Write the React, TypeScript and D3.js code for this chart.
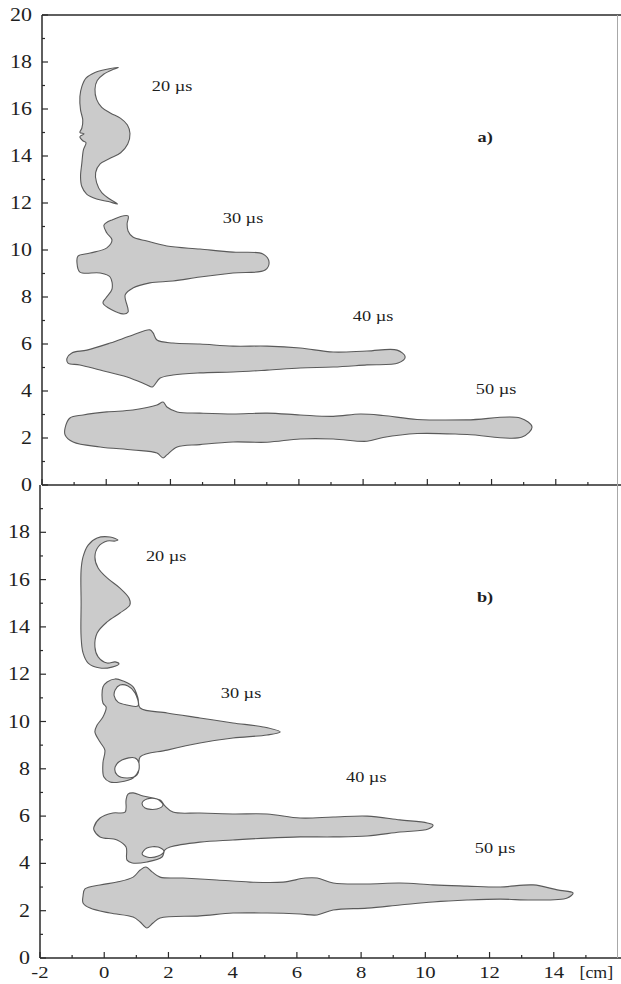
import React from 'react';
import * as d3 from 'd3';

type P = [number, number];

// ---------- axis data ----------
const xTicksMajor = [-2, 0, 2, 4, 6, 8, 10, 12, 14];
const xTicksMinor = [-1, 1, 3, 5, 7, 9, 11, 13, 15];
const yTicksTop = [0, 2, 4, 6, 8, 10, 12, 14, 16, 18, 20];
const yTicksBottom = [0, 2, 4, 6, 8, 10, 12, 14, 16, 18];
const yTicksMinor = [1, 3, 5, 7, 9, 11, 13, 15, 17, 19];
const xUnitLabel = '[cm]';
const xUnitPos = 15.85;
const xDomain: [number, number] = [-2, 16];
const yDomain: [number, number] = [0, 20];

// ---------- panel a) shapes (x in cm, y in cm) ----------
const topShape20: P[] = [
  [0.38, 17.77], [0.02, 17.69], [-0.35, 17.55], [-0.63, 17.31], [-0.76, 16.95], [-0.82, 16.53],
  [-0.8, 15.96], [-0.73, 15.53], [-0.76, 15.18], [-0.82, 15.0], [-0.69, 14.94], [-0.82, 14.82],
  [-0.73, 14.65], [-0.63, 14.57], [-0.71, 14.26], [-0.76, 13.69], [-0.8, 13.12], [-0.76, 12.7],
  [-0.61, 12.38], [-0.3, 12.17], [0.07, 12.06], [0.35, 11.96],
  [0.12, 12.16], [-0.14, 12.44], [-0.3, 12.87], [-0.33, 13.29], [-0.19, 13.66], [0.12, 13.9],
  [0.45, 14.14], [0.67, 14.51], [0.74, 14.96], [0.66, 15.32], [0.45, 15.6], [0.14, 15.82],
  [-0.14, 16.07], [-0.3, 16.41], [-0.35, 16.84], [-0.28, 17.21], [-0.07, 17.49], [0.22, 17.69],
];
const topShape30: P[] = [
  [-0.07, 11.06], [0.18, 11.28], [0.68, 11.45], [0.65, 11.11], [0.68, 10.81], [0.83, 10.55],
  [1.27, 10.38], [1.89, 10.17], [2.92, 10.04], [3.95, 9.91], [4.88, 9.83], [5.07, 9.49],
  [4.95, 9.15], [3.95, 9.02], [2.92, 8.85], [2.08, 8.68], [1.36, 8.6], [0.83, 8.38],
  [0.59, 8.09], [0.68, 7.36], [0.52, 7.28], [-0.1, 7.74], [-0.01, 7.96], [0.18, 8.34],
  [0.12, 8.85], [-0.19, 9.02], [-0.82, 9.06], [-0.91, 9.45], [-0.88, 9.74], [-0.5, 9.87],
  [0.02, 10.09], [0.18, 10.43], [0.02, 10.72],
];
const topShape40: P[] = [
  [-1.22, 5.4], [-1.07, 5.62], [-0.6, 5.74], [0.12, 6.04], [0.83, 6.38], [1.36, 6.6],
  [1.46, 6.47], [1.58, 6.17], [2.08, 6.04], [2.92, 6.0], [3.95, 5.91], [5.01, 5.91],
  [6.04, 5.83], [7.07, 5.66], [8.12, 5.7], [9.06, 5.74], [9.31, 5.45], [9.09, 5.19],
  [8.12, 5.11], [7.07, 5.02], [6.04, 4.98], [5.01, 4.89], [3.95, 4.81], [2.92, 4.77],
  [2.08, 4.68], [1.68, 4.55], [1.43, 4.17], [1.27, 4.26], [0.65, 4.6], [-0.19, 4.89],
  [-0.82, 5.11], [-1.19, 5.19],
];
const topShape50: P[] = [
  [-1.28, 2.43], [-1.13, 2.85], [-0.72, 2.98], [0.02, 3.11], [0.83, 3.19], [1.58, 3.4],
  [1.77, 3.53], [1.89, 3.32], [2.21, 3.11], [2.92, 3.06], [3.95, 3.02], [5.01, 3.06],
  [6.04, 2.98], [7.07, 2.92], [7.91, 3.02], [8.62, 2.96], [9.68, 2.79], [11.24, 2.77],
  [12.89, 2.85], [13.26, 2.47], [12.95, 2.04], [11.24, 2.15], [9.68, 2.19], [8.62, 2.02],
  [8.12, 1.86], [7.07, 1.96], [6.04, 1.96], [5.01, 1.82], [3.95, 1.83], [2.92, 1.72],
  [2.21, 1.62], [1.89, 1.28], [1.77, 1.15], [1.58, 1.36], [0.83, 1.49], [-0.19, 1.62],
  [-1.03, 1.83], [-1.28, 2.13],
];

// ---------- panel b) shapes ----------
const botShape20: P[] = [
  [0.43, 17.67], [0.18, 17.8], [-0.22, 17.76], [-0.5, 17.46], [-0.66, 16.96], [-0.72, 16.41],
  [-0.72, 15.01], [-0.72, 13.57], [-0.66, 12.9], [-0.5, 12.47], [-0.13, 12.26], [0.24, 12.3],
  [0.46, 12.43], [0.34, 12.52], [0.09, 12.47], [-0.19, 12.73], [-0.29, 13.15], [-0.22, 13.74],
  [0.09, 14.21], [0.49, 14.59], [0.8, 14.93], [0.77, 15.22], [0.49, 15.64], [0.09, 16.07],
  [-0.19, 16.49], [-0.29, 16.96], [-0.19, 17.38], [0.09, 17.63], [0.34, 17.63],
];
const botShape30: P[] = [
  [-0.04, 10.78], [-0.04, 11.46], [0.09, 11.67], [0.34, 11.8], [0.59, 11.71], [0.9, 11.46],
  [1.05, 10.99], [1.12, 10.57], [1.96, 10.36], [2.98, 10.15], [4.01, 9.94], [4.95, 9.77],
  [5.48, 9.56], [5.07, 9.43], [4.01, 9.3], [2.98, 9.09], [1.96, 8.79], [1.12, 8.5],
  [1.08, 7.95], [0.9, 7.61], [0.49, 7.44], [0.18, 7.44], [-0.01, 7.65], [-0.04, 8.25],
  [0.02, 8.79], [-0.13, 9.13], [-0.29, 9.56], [-0.22, 9.85], [-0.04, 10.19], [0.06, 10.61],
];
const botHoles30: P[][] = [
  [[0.34, 11.33], [0.49, 11.54], [0.74, 11.5], [0.96, 11.21], [1.05, 10.66], [0.71, 10.7], [0.43, 10.82], [0.31, 11.08]],
  [[0.34, 8.08], [0.55, 8.37], [0.96, 8.46], [1.08, 8.25], [1.02, 7.74], [0.71, 7.61], [0.4, 7.74]],
];
const botShape40: P[] = [
  [-0.32, 5.54], [-0.13, 5.92], [0.27, 6.13], [0.65, 6.17], [0.68, 6.68], [0.74, 6.93],
  [0.9, 6.98], [1.21, 6.85], [1.74, 6.68], [1.89, 6.43], [2.14, 6.17], [2.98, 6.13],
  [4.01, 6.09], [5.07, 6.09], [6.1, 5.92], [7.13, 5.96], [8.19, 6.0], [9.21, 5.84],
  [10.06, 5.71], [10.24, 5.62], [10.09, 5.45], [9.21, 5.33], [8.19, 5.16], [7.13, 5.12],
  [6.1, 5.12], [5.07, 5.07], [4.01, 4.99], [2.98, 4.9], [2.05, 4.69], [1.89, 4.57],
  [1.8, 4.27], [1.33, 4.06], [0.87, 4.02], [0.71, 4.14], [0.68, 4.69], [0.4, 4.99],
  [-0.13, 5.12], [-0.32, 5.41],
];
const botHoles40: P[][] = [
  [[1.18, 6.55], [1.33, 6.72], [1.64, 6.72], [1.83, 6.47], [1.64, 6.3], [1.27, 6.34]],
  [[1.18, 4.4], [1.33, 4.65], [1.68, 4.69], [1.86, 4.52], [1.68, 4.31], [1.33, 4.27]],
];
const botShape50: P[] = [
  [-0.66, 2.62], [-0.6, 2.92], [-0.13, 3.09], [0.4, 3.21], [0.9, 3.42], [1.12, 3.72],
  [1.3, 3.85], [1.49, 3.64], [1.74, 3.42], [2.45, 3.38], [3.51, 3.3], [4.54, 3.21],
  [5.57, 3.21], [6.26, 3.38], [6.63, 3.38], [7.13, 3.17], [8.19, 3.13], [9.21, 3.17],
  [10.24, 3.09], [11.3, 3.04], [12.33, 3.0], [13.36, 3.09], [14.11, 2.88], [14.6, 2.75],
  [14.42, 2.54], [13.36, 2.45], [12.33, 2.49], [11.3, 2.45], [10.24, 2.37], [9.21, 2.24],
  [8.19, 2.11], [7.13, 2.03], [6.63, 1.82], [6.1, 1.86], [5.07, 1.9], [4.01, 1.9],
  [2.98, 1.78], [1.74, 1.69], [1.52, 1.48], [1.33, 1.27], [1.12, 1.52], [0.9, 1.73],
  [0.18, 1.9], [-0.44, 2.11], [-0.66, 2.33],
];

// ---------- labels ----------
const timeLabels = ['20 µs', '30 µs', '40 µs', '50 µs'];
const topLabelX = [2.05, 4.26, 8.31, 12.14];
const topLabelY = [16.98, 11.36, 7.19, 4.09];
const botLabelX = [1.93, 4.26, 8.16, 12.17];
const botLabelY = [17.0, 11.2, 7.65, 4.65];
const panelTags = ['a)', 'b)'];
const panelTagX = [11.8, 11.86];
const panelTagY = [14.8, 15.26];

// ---------- layout ----------
const W = 621;
const H = 984;
const STRETCH = 1.22;
const FONT = "'Liberation Serif', 'Times New Roman', serif";

type Box = { left: number; right: number; top: number; bottom: number };
const topBox: Box = { left: 42, right: 620, top: 15, bottom: 485 };
const botBox: Box = { left: 40, right: 618, top: 485, bottom: 958 };

function SText(props: {
  x: number; y: number; size: number; anchor?: string; weight?: string; stretch?: number; children: React.ReactNode;
}) {
  const { x, y, size, anchor = 'middle', weight = 'normal', stretch = STRETCH, children } = props;
  return (
    <text
      transform={`translate(${x},${y}) scale(${stretch},1)`}
      fontFamily={FONT}
      fontSize={size}
      fontWeight={weight}
      textAnchor={anchor}
      fill="#1e1e1e"
    >
      {children}
    </text>
  );
}

function Panel(props: {
  box: Box;
  shapes: P[][];
  holes: P[][][];
  yTicks: number[];
  labelX: number[];
  labelY: number[];
  tag: string;
  tagX: number;
  tagY: number;
  showXLabels: boolean;
  drawTop: boolean;
}) {
  const { box, shapes, holes, yTicks, labelX, labelY, tag, tagX, tagY, showXLabels, drawTop } = props;
  const xs = d3.scaleLinear().domain(xDomain).range([box.left, box.right]);
  const ys = d3.scaleLinear().domain(yDomain).range([box.bottom, box.top]);
  const line = d3
    .line<P>()
    .x((d) => xs(d[0]))
    .y((d) => ys(d[1]))
    .curve(d3.curveCatmullRomClosed.alpha(0.5));
  const axisColor = '#2a2a2a';
  return (
    <g>
      {shapes.map((s, i) => {
        const extra = (holes[i] || []).map((h) => line(h) || '').join(' ');
        return (
          <path
            key={i}
            d={(line(s) || '') + ' ' + extra}
            fill="#cbcbcb"
            fillRule="evenodd"
            stroke="#5a5a5a"
            strokeWidth={1.1}
          />
        );
      })}
      {/* frame */}
      <line x1={box.left} x2={box.left} y1={box.top} y2={box.bottom} stroke={axisColor} strokeWidth={1.5} />
      <line x1={box.left} x2={W} y1={box.bottom} y2={box.bottom} stroke={axisColor} strokeWidth={1.5} />
      {drawTop && <line x1={box.left} x2={W} y1={box.top} y2={box.top} stroke={axisColor} strokeWidth={1.5} />}
      <line x1={617.5} x2={617.5} y1={box.top} y2={box.bottom} stroke="#a8a8a8" strokeWidth={1} />
      {/* x ticks */}
      {xTicksMajor.map((t) => (
        <line key={'xM' + t} x1={xs(t)} x2={xs(t)} y1={box.bottom} y2={box.bottom - 6} stroke={axisColor} strokeWidth={1.2} />
      ))}
      {xTicksMinor.map((t) => (
        <line key={'xm' + t} x1={xs(t)} x2={xs(t)} y1={box.bottom} y2={box.bottom - 3} stroke={axisColor} strokeWidth={1.2} />
      ))}
      {/* y ticks */}
      {yTicks.map((t) => (
        <line key={'yM' + t} x1={box.left} x2={box.left + 6} y1={ys(t)} y2={ys(t)} stroke={axisColor} strokeWidth={1.2} />
      ))}
      {yTicksMinor.map((t) => (
        <line key={'ym' + t} x1={box.left} x2={box.left + 3} y1={ys(t)} y2={ys(t)} stroke={axisColor} strokeWidth={1.2} />
      ))}
      {yTicks.map((t) => (
        <SText key={'yl' + t} x={box.left - 10} y={ys(t) + 6} size={18} anchor="end">
          {String(t)}
        </SText>
      ))}
      {showXLabels &&
        xTicksMajor.map((t) => (
          <SText key={'xl' + t} x={xs(t)} y={box.bottom + 20} size={17}>
            {String(t)}
          </SText>
        ))}
      {showXLabels && (
        <SText x={xs(xUnitPos)} y={box.bottom + 20} size={17} anchor="end" stretch={1.05}>
          {xUnitLabel}
        </SText>
      )}
      {timeLabels.map((lab, i) => (
        <SText key={'tl' + i} x={xs(labelX[i])} y={ys(labelY[i]) + 5} size={15}>
          {lab}
        </SText>
      ))}
      <SText x={xs(tagX)} y={ys(tagY) + 5} size={15} weight="bold">
        {tag}
      </SText>
    </g>
  );
}

export default function App() {
  return (
    <svg
      width={W}
      height={H}
      viewBox={`0 0 ${W} ${H}`}
      style={{ position: 'absolute', left: 0, top: 0, display: 'block', background: '#ffffff' }}
    >
      <rect x={0} y={0} width={W} height={H} fill="#ffffff" />
      <Panel
        box={topBox}
        shapes={[topShape20, topShape30, topShape40, topShape50]}
        holes={[[], [], [], []]}
        yTicks={yTicksTop}
        labelX={topLabelX}
        labelY={topLabelY}
        tag={panelTags[0]}
        tagX={panelTagX[0]}
        tagY={panelTagY[0]}
        showXLabels={false}
        drawTop={true}
      />
      <Panel
        box={botBox}
        shapes={[botShape20, botShape30, botShape40, botShape50]}
        holes={[[], botHoles30, botHoles40, []]}
        yTicks={yTicksBottom}
        labelX={botLabelX}
        labelY={botLabelY}
        tag={panelTags[1]}
        tagX={panelTagX[1]}
        tagY={panelTagY[1]}
        showXLabels={true}
        drawTop={false}
      />
    </svg>
  );
}
